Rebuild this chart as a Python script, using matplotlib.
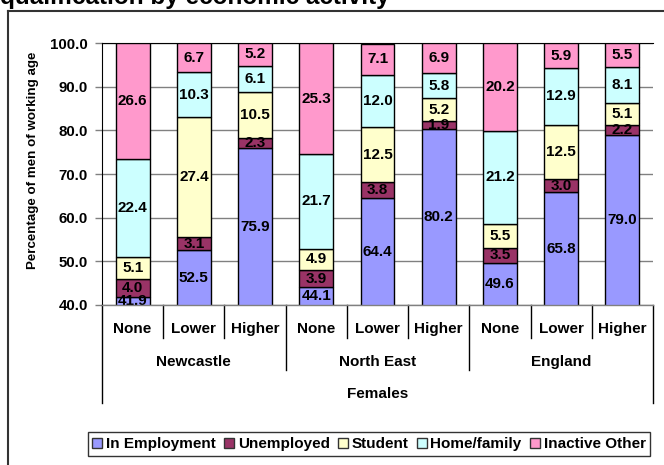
import matplotlib.pyplot as plt
import matplotlib.transforms as mtransforms
from matplotlib.lines import Line2D
from matplotlib.patches import Patch

plt.rcParams['font.family'] = ['Liberation Sans', 'DejaVu Sans']
plt.rcParams['font.weight'] = 'bold'

areas = ['Newcastle', 'North East', 'England']
quals = ['None', 'Lower', 'Higher']
series = ['In Employment', 'Unemployed', 'Student', 'Home/family', 'Inactive Other']
colors = ['#9999FF', '#993366', '#FFFFCC', '#CCFFFF', '#FF99CC']

employment = [41.9, 52.5, 75.9, 44.1, 64.4, 80.2, 49.6, 65.8, 79.0]
unemployed = [4.0, 3.1, 2.3, 3.9, 3.8, 1.9, 3.5, 3.0, 2.2]
student = [5.1, 27.4, 10.5, 4.9, 12.5, 5.2, 5.5, 12.5, 5.1]
home_family = [22.4, 10.3, 6.1, 21.7, 12.0, 5.8, 21.2, 12.9, 8.1]
inactive_other = [26.6, 6.7, 5.2, 25.3, 7.1, 6.9, 20.2, 5.9, 5.5]

data = [employment, unemployed, student, home_family, inactive_other]
ymin, ymax = 40, 100

W, H = 664, 465
fig = plt.figure(figsize=(W / 100, H / 100), dpi=100)
ax = fig.add_axes([102 / W, 1 - 305 / H, (653 - 102) / W, (305 - 43) / H])

# outer chart-area frame and the clipped title above it
fig.add_artist(Line2D([8 / W, 8 / W], [0, 1 - 11 / H], color='#333333', lw=1.5,
                      transform=fig.transFigure))
fig.add_artist(Line2D([8 / W, 1], [1 - 11 / H, 1 - 11 / H], color='#333333', lw=1.5,
                      transform=fig.transFigure))
fig.text(0 / W, 1 - 4 / H, 'qualification by economic activity', fontsize=17.5,
         fontweight='bold', ha='left', va='baseline')

n = len(employment)
xs = [i + 0.5 for i in range(n)]
bottoms = [0.0] * n
for vals, col in zip(data, colors):
    ax.bar(xs, vals, width=0.555, bottom=bottoms, color=col, edgecolor='black',
           linewidth=1, zorder=3)
    for x, b, v in zip(xs, bottoms, vals):
        lo, hi = max(b, ymin), min(b + v, ymax)
        if hi > lo:
            ax.text(x, (lo + hi) / 2, f'{v:.1f}', ha='center', va='center',
                    fontsize=11, fontweight='bold', zorder=4)
    bottoms = [b + v for b, v in zip(bottoms, vals)]

ax.set_xlim(0, n)
ax.set_ylim(ymin, ymax)
ax.set_yticks(range(40, 101, 10))
ax.set_yticklabels([f'{t:.1f}' for t in range(40, 101, 10)], fontsize=10.8,
                   fontweight='bold')
ax.set_xticks([])
ax.yaxis.grid(True, color='#808080', lw=1, zorder=0)
ax.tick_params(axis='y', length=5, width=1, color='#808080', pad=5)
for s in ['right', 'bottom']:
    ax.spines[s].set_visible(False)
ax.spines['top'].set_color('black')
ax.spines['left'].set_color('black')
ax.axhline(ymin, color='#808080', lw=1, zorder=5, clip_on=False)

ax.set_ylabel('Percentage of men of working age', fontsize=9.6, fontweight='bold')
ax.yaxis.set_label_coords(-(102 - 39) / (653 - 102), (305 - 160) / 262)

# multi-level category axis below the plot
ph = 305 - 43
trans = mtransforms.blended_transform_factory(ax.transData, ax.transAxes)
def ypix(p):
    return (305 - p) / ph

for i, x in enumerate(xs):
    ax.text(x, ypix(329), quals[i % 3], transform=trans, ha='center', va='center',
            fontsize=11, fontweight='bold')
for j, area in enumerate(areas):
    ax.text(3 * j + 1.5, ypix(362), area, transform=trans, ha='center', va='center',
            fontsize=11, fontweight='bold')
ax.text(n / 2, ypix(394), 'Females', transform=trans, ha='center', va='center',
        fontsize=11, fontweight='bold')

for k in range(n + 1):
    if k in (0, n):
        end = 403
    elif k % 3 == 0:
        end = 370
    else:
        end = 338
    ax.add_line(Line2D([k, k], [0, ypix(end)], transform=trans, color='black',
                       lw=1, clip_on=False))

handles = [Patch(facecolor=c, edgecolor='#333333', lw=1) for c in colors]
leg = fig.legend(handles, series, loc='center', bbox_to_anchor=(369 / W, 1 - 444 / H),
                 ncol=5, frameon=True, fancybox=False, edgecolor='black',
                 prop={'size': 11, 'weight': 'bold'}, handlelength=0.65,
                 handleheight=0.65, handletextpad=0.26, columnspacing=0.52,
                 borderpad=0.3, borderaxespad=0)
leg.get_frame().set_linewidth(1)

fig.savefig('out.png', dpi=100)
